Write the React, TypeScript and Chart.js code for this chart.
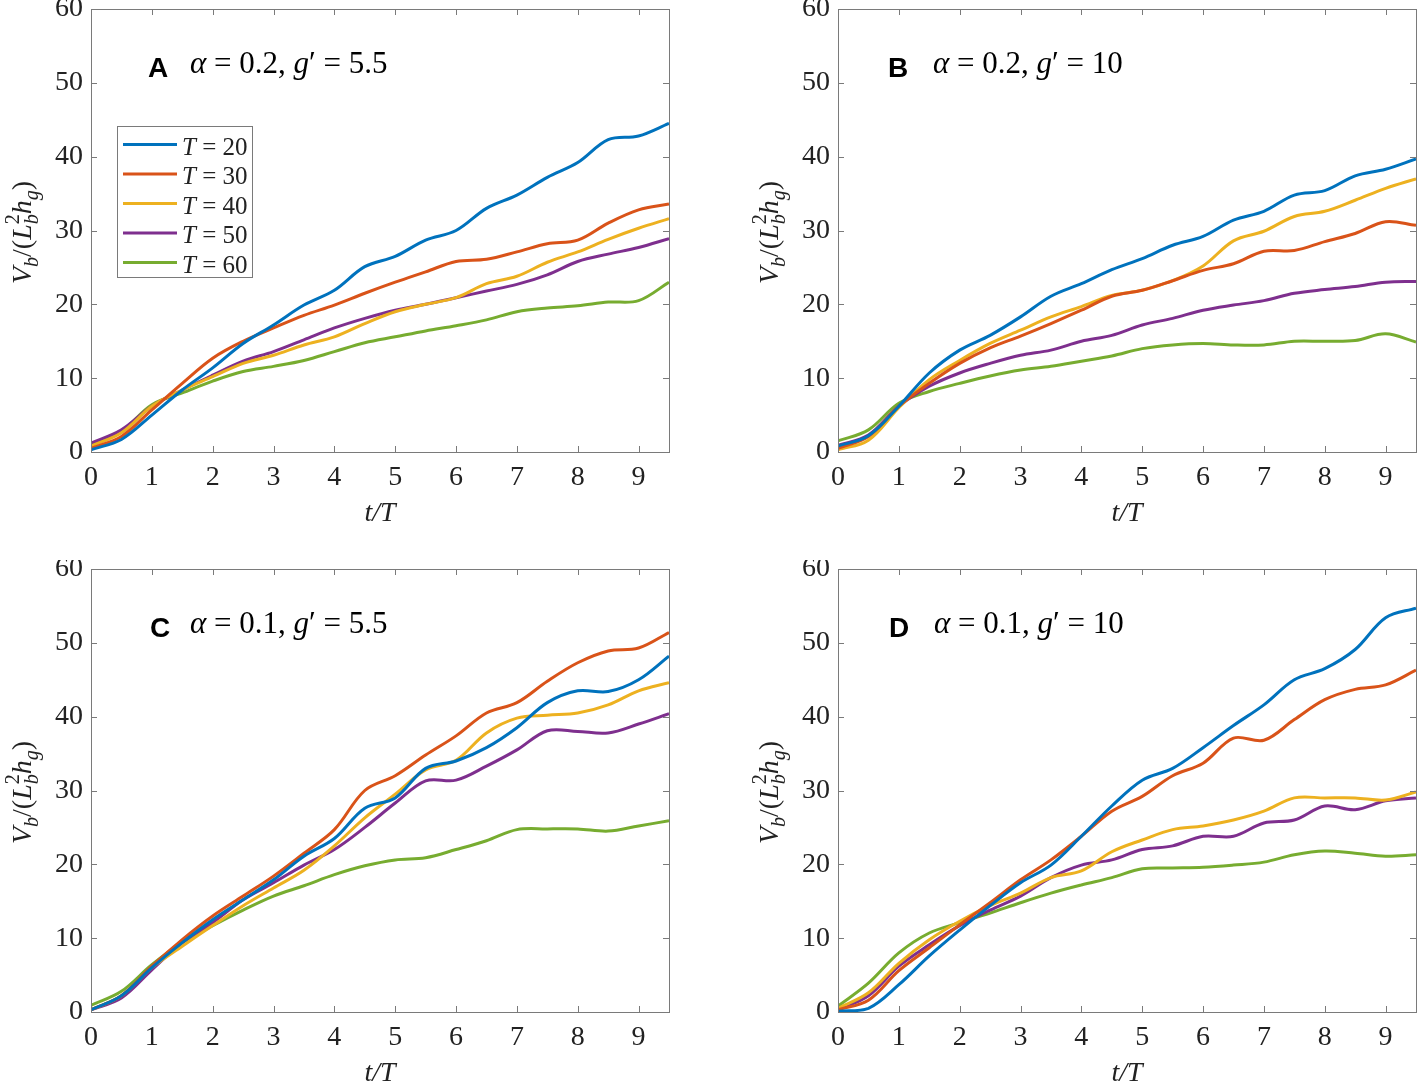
import React, { useEffect, useRef } from "react";
import { Chart, registerables } from "chart.js";

Chart.register(...registerables);

// ---------- data ----------
const T_OVER_T = [0, 0.5, 1, 1.5, 2, 2.5, 3, 3.5, 4, 4.5, 5, 5.5, 6, 6.5, 7, 7.5, 8, 8.5, 9, 9.5];
const X_TICKS = [0, 1, 2, 3, 4, 5, 6, 7, 8, 9];
const Y_TICKS = [0, 10, 20, 30, 40, 50, 60];
const PERIODS = ["20", "30", "40", "50", "60"];
const PANEL_LETTERS = ["A", "B", "C", "D"];
const PANEL_ALPHA = ["0.2", "0.2", "0.1", "0.1"];
const PANEL_G = ["5.5", "10", "5.5", "10"];

const A_T20 = [0.3, 1.7, 5.0, 8.4, 11.4, 14.7, 17.2, 19.9, 21.9, 25.1, 26.5, 28.7, 30.0, 33.0, 34.8, 37.2, 39.2, 42.3, 42.8, 44.5];
const A_T30 = [0.5, 2.1, 5.7, 9.3, 12.7, 15.0, 16.8, 18.5, 19.9, 21.5, 23.0, 24.4, 25.8, 26.1, 27.1, 28.2, 28.7, 31.0, 32.8, 33.6];
const A_T40 = [0.8, 2.6, 6.2, 8.4, 10.2, 12.0, 13.1, 14.5, 15.6, 17.4, 19.0, 20.0, 20.9, 22.8, 23.8, 25.7, 27.1, 28.8, 30.3, 31.6];
const A_T50 = [1.2, 3.0, 6.2, 8.4, 10.4, 12.3, 13.6, 15.2, 16.8, 18.1, 19.2, 20.0, 20.9, 21.8, 22.7, 24.0, 25.8, 26.8, 27.7, 28.9];
const A_T60 = [0.9, 2.8, 6.4, 8.0, 9.6, 10.9, 11.6, 12.4, 13.6, 14.8, 15.6, 16.4, 17.1, 17.9, 19.0, 19.5, 19.8, 20.3, 20.5, 23.0];

const B_T20 = [0.8, 2.2, 6.2, 10.7, 13.8, 15.8, 18.3, 21.1, 22.8, 24.7, 26.2, 28.0, 29.2, 31.4, 32.6, 34.8, 35.4, 37.4, 38.3, 39.7];
const B_T30 = [0.5, 2.1, 6.2, 9.3, 12.0, 14.1, 15.7, 17.4, 19.2, 21.1, 21.9, 23.2, 24.6, 25.5, 27.2, 27.3, 28.5, 29.6, 31.2, 30.7];
const B_T40 = [0.3, 1.6, 6.0, 9.8, 12.4, 14.7, 16.5, 18.3, 19.7, 21.2, 21.9, 23.2, 25.2, 28.6, 29.9, 31.9, 32.6, 34.1, 35.7, 37.0];
const B_T50 = [0.9, 2.3, 6.2, 8.9, 10.7, 12.0, 13.1, 13.8, 15.0, 15.8, 17.2, 18.1, 19.2, 19.9, 20.5, 21.5, 22.0, 22.4, 23.0, 23.1];
const B_T60 = [1.5, 3.0, 6.6, 8.2, 9.3, 10.3, 11.1, 11.6, 12.3, 13.0, 14.0, 14.5, 14.7, 14.5, 14.5, 15.0, 15.0, 15.1, 16.0, 14.9];

const C_T20 = [0.3, 2.2, 6.0, 9.4, 12.5, 15.2, 17.9, 21.1, 23.5, 27.6, 29.0, 33.0, 34.0, 35.8, 38.5, 41.9, 43.5, 43.4, 45.0, 48.2];
const C_T30 = [0.3, 2.2, 6.2, 9.8, 13.0, 15.7, 18.4, 21.5, 24.7, 30.0, 32.0, 34.8, 37.4, 40.5, 41.9, 44.8, 47.3, 48.9, 49.3, 51.4];
const C_T40 = [0.3, 2.2, 6.0, 8.9, 11.7, 14.4, 16.8, 19.2, 22.5, 26.3, 29.5, 32.8, 34.1, 37.8, 39.8, 40.2, 40.5, 41.6, 43.5, 44.6];
const C_T50 = [0.3, 1.9, 5.7, 9.4, 12.1, 15.2, 17.5, 19.9, 22.0, 25.0, 28.3, 31.3, 31.4, 33.3, 35.5, 38.1, 38.0, 37.8, 39.0, 40.4];
const C_T60 = [0.9, 2.8, 6.4, 9.4, 11.7, 13.8, 15.7, 17.1, 18.6, 19.8, 20.6, 20.9, 22.0, 23.2, 24.7, 24.8, 24.8, 24.5, 25.2, 25.9];

const D_T20 = [0.1, 0.5, 3.7, 7.6, 11.1, 14.4, 17.5, 19.9, 23.8, 27.9, 31.4, 33.0, 35.8, 38.8, 41.6, 45.0, 46.5, 49.1, 53.4, 54.7];
const D_T30 = [0.3, 1.6, 5.6, 8.7, 11.8, 14.8, 17.9, 20.6, 23.8, 27.2, 29.2, 32.0, 33.7, 37.1, 36.8, 39.6, 42.3, 43.7, 44.3, 46.3];
const D_T40 = [0.5, 2.6, 6.6, 9.8, 12.3, 14.4, 16.1, 18.2, 19.1, 21.7, 23.3, 24.7, 25.2, 26.0, 27.2, 29.0, 29.0, 29.0, 28.7, 29.8];
const D_T50 = [0.3, 2.2, 6.2, 9.1, 11.7, 13.8, 15.7, 18.2, 19.9, 20.6, 22.0, 22.5, 23.8, 23.8, 25.6, 26.0, 27.9, 27.4, 28.6, 29.0];
const D_T60 = [0.8, 3.9, 8.0, 10.7, 12.1, 13.4, 14.8, 16.1, 17.2, 18.2, 19.4, 19.5, 19.6, 19.9, 20.3, 21.3, 21.8, 21.5, 21.1, 21.3];

const PANEL_SERIES = [
  [A_T20, A_T30, A_T40, A_T50, A_T60],
  [B_T20, B_T30, B_T40, B_T50, B_T60],
  [C_T20, C_T30, C_T40, C_T50, C_T60],
  [D_T20, D_T30, D_T40, D_T50, D_T60],
];

// ---------- styles / layout ----------
const COLORS = ["#0072BD", "#D95319", "#EDB120", "#7E2F8E", "#77AC30"];
const SERIF = '"Liberation Serif", "Times New Roman", serif';
const SANS = '"Liberation Sans", Arial, sans-serif';
const AXIS_COLOR = "#7a7a7a";
const TEXT_COLOR = "#222222";

const LAYOUT = [
  { left: 0, top: 0, width: 708, padRight: 39, letterX: 148, textX: 190, legend: true },
  { left: 747, top: 0, width: 670, padRight: 1, letterX: 141, textX: 186, legend: false },
  { left: 0, top: 560, width: 708, padRight: 39, letterX: 150, textX: 190, legend: false },
  { left: 747, top: 560, width: 670, padRight: 1, letterX: 142, textX: 187, legend: false },
];
const CANVAS_H = 541;
const PLOT_TOP = 9;
const PLOT_BOTTOM = 452;

type Seg = { t: string; size: number; italic?: boolean; bold?: boolean; sans?: boolean; dy?: number; noAdvance?: boolean };

function segFont(s: Seg) {
  return `${s.italic ? "italic " : ""}${s.bold ? "bold " : ""}${s.size}px ${s.sans ? SANS : SERIF}`;
}

function drawRich(ctx: CanvasRenderingContext2D, segs: Seg[], x: number, y: number, center: boolean) {
  let total = 0;
  for (const s of segs) {
    ctx.font = segFont(s);
    if (!s.noAdvance) total += ctx.measureText(s.t).width;
  }
  let cx = center ? x - total / 2 : x;
  for (const s of segs) {
    ctx.font = segFont(s);
    ctx.fillText(s.t, cx, y + (s.dy || 0));
    if (!s.noAdvance) cx += ctx.measureText(s.t).width;
  }
}

function makeDecor(panel: number) {
  const lay = LAYOUT[panel];
  return {
    id: "decor" + panel,
    afterDatasetsDraw(chart: any) {
      const ctx: CanvasRenderingContext2D = chart.ctx;
      const { left, right, top, bottom } = chart.chartArea;
      const xs = chart.scales.x;
      const ys = chart.scales.y;
      ctx.save();
      // box
      ctx.strokeStyle = AXIS_COLOR;
      ctx.lineWidth = 1;
      ctx.strokeRect(Math.round(left) + 0.5, Math.round(top) + 0.5, Math.round(right - left), Math.round(bottom - top));
      // inward ticks
      const tl = 6;
      ctx.beginPath();
      for (const v of X_TICKS) {
        const px = Math.round(xs.getPixelForValue(v)) + 0.5;
        ctx.moveTo(px, bottom);
        ctx.lineTo(px, bottom - tl);
        ctx.moveTo(px, top);
        ctx.lineTo(px, top + tl);
      }
      for (const v of Y_TICKS) {
        const py = Math.round(ys.getPixelForValue(v)) + 0.5;
        ctx.moveTo(left, py);
        ctx.lineTo(left + tl, py);
        ctx.moveTo(right, py);
        ctx.lineTo(right - tl, py);
      }
      ctx.stroke();

      ctx.fillStyle = "#000";
      ctx.textBaseline = "alphabetic";
      ctx.textAlign = "left";
      // panel annotation
      ctx.font = `bold 28px ${SANS}`;
      ctx.fillText(PANEL_LETTERS[panel], lay.letterX, 77);
      drawRich(
        ctx,
        [
          { t: "α", size: 31, italic: true },
          { t: ` = ${PANEL_ALPHA[panel]}, `, size: 31 },
          { t: "g", size: 31, italic: true },
          { t: `′ = ${PANEL_G[panel]}`, size: 31 },
        ],
        lay.textX,
        73,
        false
      );

      // y-axis title
      ctx.fillStyle = TEXT_COLOR;
      ctx.translate(31, (PLOT_TOP + PLOT_BOTTOM) / 2 + 2);
      ctx.rotate(-Math.PI / 2);
      drawRich(
        ctx,
        [
          { t: "V", size: 28, italic: true },
          { t: "b", size: 20, italic: true, dy: 7 },
          { t: "/(", size: 28 },
          { t: "L", size: 28, italic: true },
          { t: "2", size: 20, dy: -12, noAdvance: true },
          { t: "b", size: 20, italic: true, dy: 7 },
          { t: "h", size: 28, italic: true },
          { t: "g", size: 20, italic: true, dy: 7 },
          { t: ")", size: 28 },
        ],
        0,
        0,
        true
      );
      ctx.restore();

      // legend
      if (lay.legend) {
        ctx.save();
        ctx.fillStyle = "#fff";
        ctx.fillRect(117, 126, 135, 151);
        ctx.strokeStyle = AXIS_COLOR;
        ctx.lineWidth = 1;
        ctx.strokeRect(117.5, 126.5, 135, 151);
        chart.data.datasets.forEach((ds: any, i: number) => {
          const y = 144.5 + i * 29.5;
          ctx.strokeStyle = ds.borderColor;
          ctx.lineWidth = 3;
          ctx.beginPath();
          ctx.moveTo(123, y);
          ctx.lineTo(177, y);
          ctx.stroke();
          ctx.fillStyle = TEXT_COLOR;
          drawRich(
            ctx,
            [
              { t: "T", size: 25, italic: true },
              { t: ` = ${PERIODS[i]}`, size: 25 },
            ],
            182,
            y + 10,
            false
          );
        });
        ctx.restore();
      }
    },
  };
}

function Panel({ index }: { index: number }) {
  const ref = useRef<HTMLCanvasElement | null>(null);
  const lay = LAYOUT[index];
  useEffect(() => {
    if (!ref.current) return;
    const series = PANEL_SERIES[index];
    const chart = new Chart(ref.current, {
      type: "line",
      data: {
        datasets: series.map((vals, i) => ({
          label: `T = ${PERIODS[i]}`,
          data: vals.map((v, j) => ({ x: T_OVER_T[j], y: v })),
          borderColor: COLORS[i],
          backgroundColor: COLORS[i],
          borderWidth: 3,
          pointRadius: 0,
          tension: 0.35,
          fill: false,
        })),
      },
      options: {
        animation: false,
        responsive: false,
        devicePixelRatio: 1,
        events: [],
        layout: { padding: { top: PLOT_TOP, right: lay.padRight, left: 0, bottom: 0 } },
        plugins: { legend: { display: false }, tooltip: { enabled: false } },
        scales: {
          x: {
            type: "linear",
            min: 0,
            max: 9.5,
            grid: { display: false, drawTicks: false },
            border: { display: false },
            afterBuildTicks: (s: any) => {
              s.ticks = X_TICKS.map((v) => ({ value: v }));
            },
            afterFit: (s: any) => {
              s.height = CANVAS_H - PLOT_BOTTOM;
              s.paddingLeft = 0;
              s.paddingRight = 0;
            },
            ticks: {
              color: TEXT_COLOR,
              padding: 9,
              maxRotation: 0,
              autoSkip: false,
              font: { family: SERIF, size: 28 },
            },
            title: {
              display: true,
              text: "t/T",
              color: TEXT_COLOR,
              font: { family: SERIF, size: 28, style: "italic" },
              padding: { top: 0, bottom: 11 },
            },
          },
          y: {
            type: "linear",
            min: 0,
            max: 60,
            grid: { display: false, drawTicks: false },
            border: { display: false },
            afterBuildTicks: (s: any) => {
              s.ticks = Y_TICKS.map((v) => ({ value: v }));
            },
            afterFit: (s: any) => {
              s.width = 91;
              s.paddingTop = 0;
              s.paddingBottom = 0;
            },
            ticks: {
              color: TEXT_COLOR,
              padding: 8,
              autoSkip: false,
              font: { family: SERIF, size: 28 },
            },
          },
        },
      },
      plugins: [makeDecor(index)],
    } as any);
    return () => chart.destroy();
  }, [index]);
  return (
    <canvas
      ref={ref}
      width={lay.width}
      height={CANVAS_H}
      style={{ position: "absolute", left: lay.left, top: lay.top, width: lay.width, height: CANVAS_H }}
    />
  );
}

export default function App() {
  return (
    <div
      style={{
        position: "fixed",
        left: 0,
        top: 0,
        width: 1417,
        height: 1082,
        overflow: "hidden",
        background: "#ffffff",
      }}
    >
      {[0, 1, 2, 3].map((i) => (
        <Panel key={i} index={i} />
      ))}
    </div>
  );
}
